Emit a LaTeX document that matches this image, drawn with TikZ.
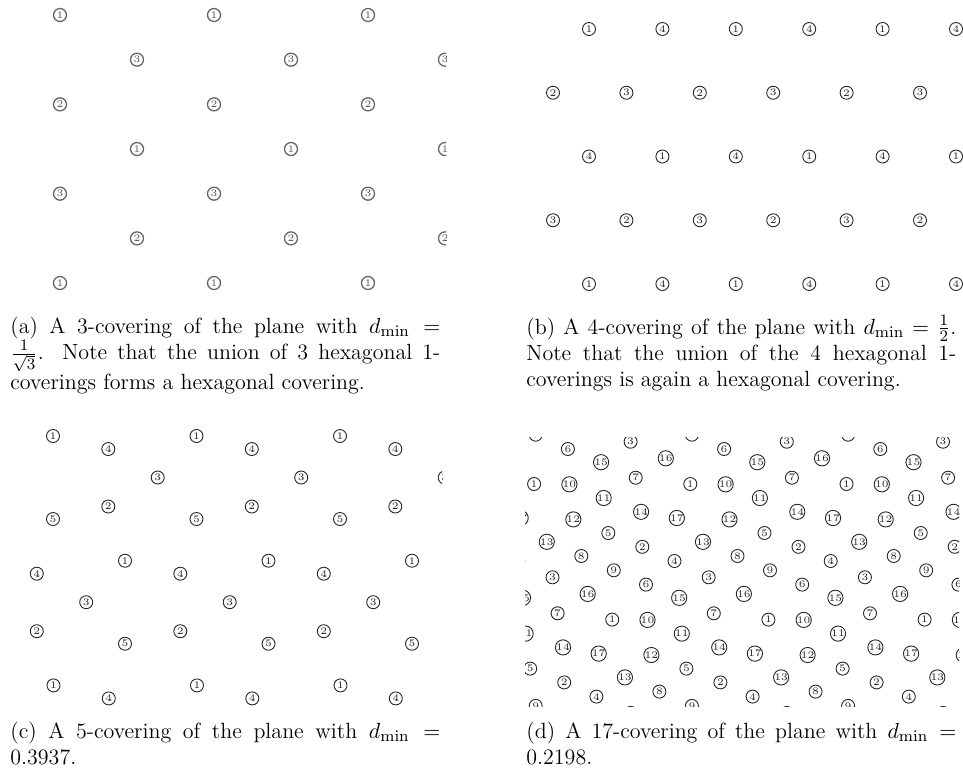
\documentclass[tikz,border=0pt]{standalone}
\usepackage{amsmath}
\begin{document}
\begin{tikzpicture}[x=0.5pt,y=-0.5pt,
  cov/.style={circle,draw=black!85,line width=0.45pt,inner sep=0pt,minimum size=6.5pt,font=\fontsize{5}{5}\selectfont,text=black!85},
  cova/.style={cov,draw=black!60,text=black!65,line width=0.65pt},
  capt/.style={anchor=base west,text width=215pt,align=justify,inner sep=0pt,font=\fontsize{11}{13.2}\selectfont}]
\useasboundingbox (0,0) rectangle (963,768);

% ---------------- panel (a)
\begin{scope}
\clip (0,0) rectangle (446,305);
\foreach \r/\l/\xs in {0/1/60,1/3/137,2/2/60,3/1/137,4/3/60,5/2/137,6/1/60}{
  \foreach \k in {0,1,2}{
    \node[cova] (a-\r-\k) at ({\xs+154*\k},{15+44.67*\r}) {\l};
  }
}
\end{scope}

% ---------------- panel (b)
\begin{scope}
\clip (500,0) rectangle (963,305);
\foreach \r/\xs/\la/\lb in {0/589/1/4,1/553/2/3,2/589/4/1,3/553/3/2,4/589/1/4}{
  \foreach \k in {0,2,4}{
    \node[cov] (b-\r-\k) at ({\xs+73.4*\k},{29+63.75*\r}) {\la};
  }
  \foreach \k in {1,3,5}{
    \node[cov] (b-\r-\k) at ({\xs+73.4*\k},{29+63.75*\r}) {\lb};
  }
}
\end{scope}

% ---------------- panel (c)
\begin{scope}
\clip (25,420) rectangle (442,712);
\foreach \l/\ox/\oy in {1/0/0,4/55.3/13,3/104.7/41.5,2/55.3/70.5,5/0/83}{
  \foreach \i in {-2,...,3}{
    \foreach \j in {-1,...,2}{
      \node[cov] (c-\l-\i-\j) at ({53+\ox+143.5*\i+72*\j},{436+\oy+124.7*\j}) {\l};
    }
  }
}
\end{scope}

% ---------------- panel (d)
\begin{scope}
\clip (525,437) rectangle (959,706);
\foreach \l/\ox/\oy in {1/0/0,2/-48/62.8,3/96.5/-42.3,4/-15.8/77,5/74.2/49,6/33.8/-35,7/-54.6/-6.3,8/47.2/72,9/79.7/86.3,10/35.3/0.3,11/69.6/14,12/39.2/35.4,13/12.7/57.8,14/-49.2/27.8,15/67/-21.8,16/-24.5/-25.7,17/-13.5/34}{
  \foreach \i in {-3,...,3}{
    \foreach \j in {-2,...,2}{
      \node[cov] (d-\l-\i-\j) at ({690.3+\ox+156.2*\i+78.1*\j},{484+\oy+135.6*\j}) {\l};
    }
  }
}
\end{scope}

% ---------------- captions
\node[capt] (capa) at (10,333) {(a) A 3-covering of the plane with $d_{\min}=$\linebreak$\frac{1}{\sqrt{3}}$. Note that the union of 3 hexagonal 1-\linebreak coverings forms a hexagonal covering.};
\node[capt] (capb) at (526,334) {(b) A 4-covering of the plane with $d_{\min}=\frac{1}{2}$.\linebreak Note that the union of the 4 hexagonal 1-\linebreak coverings is again a hexagonal covering.};
\node[capt] (capc) at (10,738) {(c) A 5-covering of the plane with $d_{\min}=$\linebreak 0.3937.};
\node[capt] (capd) at (526,738) {(d) A 17-covering of the plane with $d_{\min}=$\linebreak 0.2198.};
\end{tikzpicture}
\end{document}
